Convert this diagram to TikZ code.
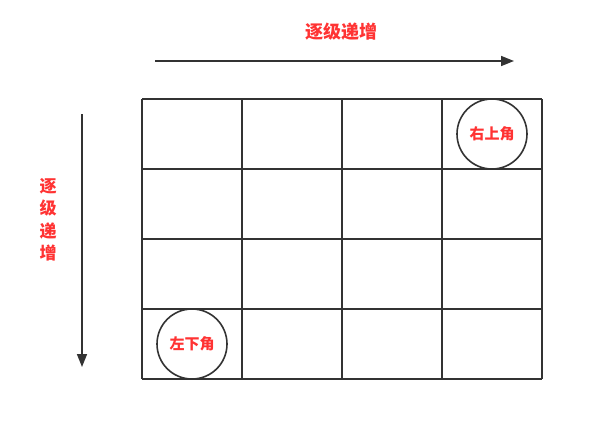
\documentclass[tikz,border=0pt]{standalone}
\usepackage{fontspec}
\newfontfamily\cjk{Noto Sans CJK SC}
\usetikzlibrary{arrows.meta}
\definecolor{labelred}{HTML}{FF3333}
\definecolor{linegray}{HTML}{333333}
\tikzset{
    label text/.style={text=labelred,font=\cjk\bfseries\fontsize{15}{15}\selectfont,inner sep=0pt},
    corner circle/.style={draw=linegray,line width=1.6pt,circle,minimum size=70pt,inner sep=0pt,label text},
    grow arrow/.style={draw=linegray,line width=1.6pt,-{Triangle[length=13pt,width=10pt]}}
}
\begin{document}
\begin{tikzpicture}[x=1pt,y=-1pt]
        % Fix the page to the reference size
        \useasboundingbox (0,0) rectangle (604,440);
        % Draw the grid, 4 by 4
        \foreach \c in {0,...,4}
            \draw[linegray,line width=1.6pt] (142+100*\c,99) -- (142+100*\c,379);
        \foreach \r in {0,...,4}
            \draw[linegray,line width=1.6pt] (142,99+70*\r) -- (542,99+70*\r);
        % Draw corner circles
        \node[corner circle] (topright) at (492,134) {右上角};
        \node[corner circle] (bottomleft) at (192,344) {左下角};
        % Draw top arrow and its label
        \coordinate (rowstart) at (155,61);
        \coordinate (rowend) at (514,61);
        \draw[grow arrow] (rowstart) -- (rowend);
        \node[label text,font=\cjk\bfseries\fontsize{18}{18}\selectfont] (rowlabel) at (341,32) {逐级递增};
        % Draw left arrow and its label
        \coordinate (colstart) at (82,114);
        \coordinate (colend) at (82,367);
        \draw[grow arrow] (colstart) -- (colend);
        \node[label text,align=center,font=\cjk\bfseries\fontsize{17}{22.5}\selectfont] (collabel) at (48,220) {逐\\级\\递\\增};
    \end{tikzpicture}
\end{document}
